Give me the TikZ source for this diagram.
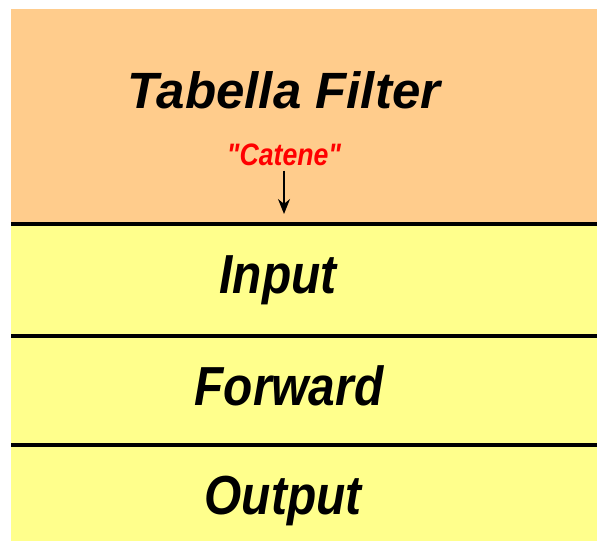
\documentclass[tikz,border=0pt]{standalone}
\usepackage{fontspec}
\setmainfont{Liberation Sans}
\newfontfamily\plainfont{Liberation Sans}
\usetikzlibrary{arrows.meta,positioning}
\definecolor{headcolor}{RGB}{255,204,140}
\definecolor{bandcolor}{RGB}{255,255,140}
\definecolor{tagcolor}{RGB}{255,0,0}
\tikzset{
  titlelbl/.style={font=\fontsize{51}{51}\selectfont\bfseries\itshape, anchor=base, inner sep=0pt},
  taglbl/.style={font=\plainfont\fontsize{31}{31}\selectfont\bfseries\itshape, text=tagcolor, anchor=base, inner sep=0pt, xscale=0.86},
  bandlbl/.style={font=\fontsize{55}{55}\selectfont\bfseries\itshape, anchor=base, inner sep=0pt, xscale=0.87},
  sepln/.style={line width=4pt},
  pointer/.style={-{Stealth[length=15pt,width=12pt]}, line width=1.6pt},
}

\begin{document}
\begin{tikzpicture}[x=1pt, y=-1pt]
    \useasboundingbox (0,0) rectangle (597,541);
    \fill[headcolor] (11,9) rectangle (597,224);
    \fill[bandcolor] (11,224) rectangle (597,541);
    \foreach \y in {224, 336, 445} {
      \draw[sepln] (11,\y) -- (597,\y);
    }
    \node[titlelbl] (title) at (284,108) {Tabella Filter};
    \node[taglbl] (tag) at (284,165) {"Catene"};
    \coordinate (tagend) at (284,214);
    \draw[pointer] (tag.south -| tagend) ++(0,5) -- (tagend);
    \node[bandlbl] (input) at (278,293) {Input};
    \node[bandlbl] (forward) at (289,405) {Forward};
    \node[bandlbl] (output) at (283,514) {Output};
  \end{tikzpicture}
\end{document}
